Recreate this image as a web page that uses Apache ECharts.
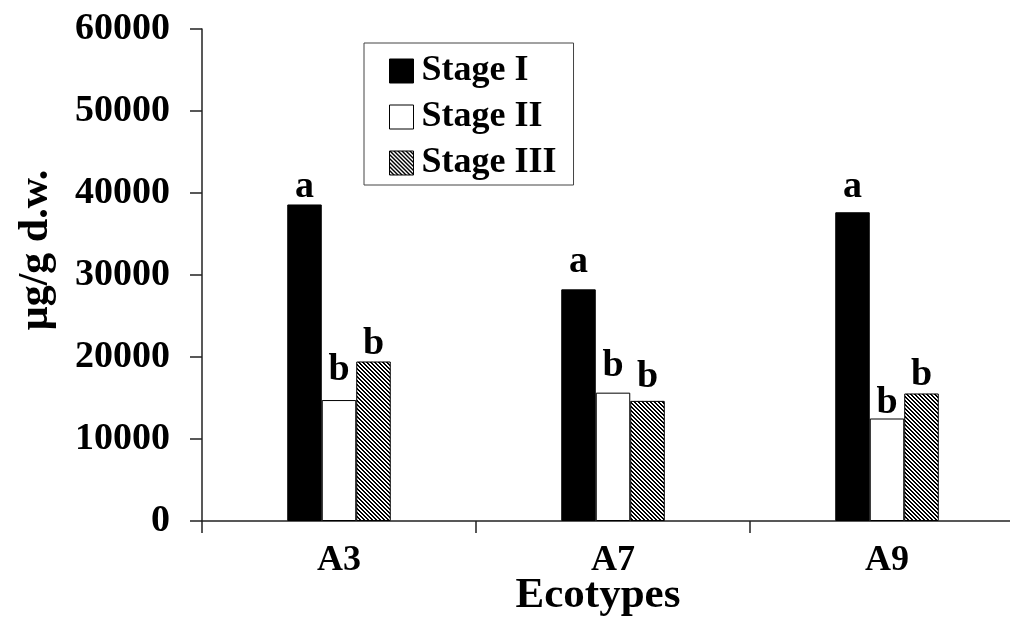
<!DOCTYPE html>
<html>
<head>
<meta charset="utf-8">
<script src="https://cdn.jsdelivr.net/npm/echarts@6/dist/echarts.min.js"></script>
<style>
  html, body { margin: 0; padding: 0; background: #fff; }
  #chart { width: 1010px; height: 633px; }
</style>
</head>
<body>
<div id="chart"></div>
<script>
// 数据
const ecotypes = ['A3', 'A7', 'A9'];
const stageNames = ['Stage I', 'Stage II', 'Stage III'];
const stage1 = [38600, 28250, 37650];
const stage2 = [14750, 15650, 12500];
const stage3 = [19450, 14650, 15550];
const letters1 = ['a', 'a', 'a'];
const letters2 = ['b', 'b', 'b'];
const letters3 = ['b', 'b', 'b'];
const yTicks = [0, 10000, 20000, 30000, 40000, 50000, 60000];

// 字母标注的微调（像素）
const nudge1 = [-2, 8, 6];
const nudge2 = [11, 7, -4];
const nudge3 = [-2, 5, -1];

const FONT = 'Liberation Serif';

// 斜线填充
function hatch () {
  const c = document.createElement('canvas');
  c.width = 4;
  c.height = 4;
  const ctx = c.getContext('2d');
  ctx.fillStyle = '#fff';
  ctx.fillRect(0, 0, 4, 4);
  ctx.fillStyle = '#000';
  for (let x = 0; x < 4; x++) {
    for (let y = 0; y < 4; y++) {
      const d = ((x - y) % 4 + 4) % 4;
      if (d === 0 || d === 1) ctx.fillRect(x, y, 1, 1);
    }
  }
  return c;
}

function buildSeries (name, values, letters, nudge, fill) {
  return {
    name: name,
    type: 'bar',
    barWidth: 34.5,
    barGap: '0%',
    itemStyle: {
      color: fill,
      borderColor: '#000',
      borderWidth: 1
    },
    label: {
      show: true,
      position: 'top',
      distance: 0,
      color: '#000',
      fontFamily: FONT,
      fontWeight: 'bold',
      fontSize: 38,
      formatter: p => letters[p.dataIndex]
    },
    data: values.map((v, i) => ({ value: v, label: { offset: [0, -nudge[i]] } }))
  };
}

const chart = echarts.init(document.getElementById('chart'));
const option = {
  animation: false,
  backgroundColor: '#fff',
  grid: { left: 202, top: 29, width: 822, bottom: 112, outerBoundsMode: 'none', containLabel: false },
  legend: {
    orient: 'vertical',
    left: 364,
    top: 43,
    data: stageNames,
    icon: 'rect',
    itemWidth: 24,
    itemHeight: 24,
    itemGap: 6,
    padding: [8, 17, 2, 25],
    borderColor: '#444',
    borderWidth: 1,
    textStyle: {
      fontFamily: FONT,
      fontWeight: 'bold',
      fontSize: 36,
      lineHeight: 40,
      color: '#000',
      padding: [0, 0, 0, 3]
    },
    itemStyle: { borderColor: '#000', borderWidth: 1 }
  },
  xAxis: {
    type: 'category',
    data: ecotypes,
    axisLine: { lineStyle: { color: '#222', width: 1.5 } },
    axisTick: { show: true, inside: false, length: 12, lineStyle: { color: '#222', width: 1.5 } },
    axisLabel: {
      margin: 22,
      color: '#000',
      fontFamily: FONT,
      fontWeight: 'bold',
      fontSize: 36
    }
  },
  yAxis: {
    type: 'value',
    min: yTicks[0],
    max: yTicks[yTicks.length - 1],
    interval: 10000,
    splitLine: { show: false },
    axisLine: { show: true, lineStyle: { color: '#222', width: 1.5 } },
    axisTick: { show: true, inside: false, length: 12, lineStyle: { color: '#222', width: 1.5 } },
    axisLabel: {
      margin: 32,
      color: '#000',
      fontFamily: FONT,
      fontWeight: 'bold',
      fontSize: 38,
      formatter: v => String(v)
    }
  },
  graphic: [
    {
      type: 'text',
      x: 36,
      y: 250,
      rotation: Math.PI / 2,
      style: {
        text: 'μg/g d.w.',
        fill: '#000',
        font: 'bold 42px "' + FONT + '"',
        align: 'center',
        verticalAlign: 'middle'
      }
    },
    {
      type: 'text',
      x: 598,
      y: 596,
      style: {
        text: 'Ecotypes',
        fill: '#000',
        font: 'bold 43px "' + FONT + '"',
        align: 'center',
        verticalAlign: 'middle'
      }
    }
  ],
  series: [
    buildSeries(stageNames[0], stage1, letters1, nudge1, '#000'),
    buildSeries(stageNames[1], stage2, letters2, nudge2, '#fff'),
    buildSeries(stageNames[2], stage3, letters3, nudge3, { image: hatch(), repeat: 'repeat' })
  ]
};
chart.setOption(option);
</script>
</body>
</html>
